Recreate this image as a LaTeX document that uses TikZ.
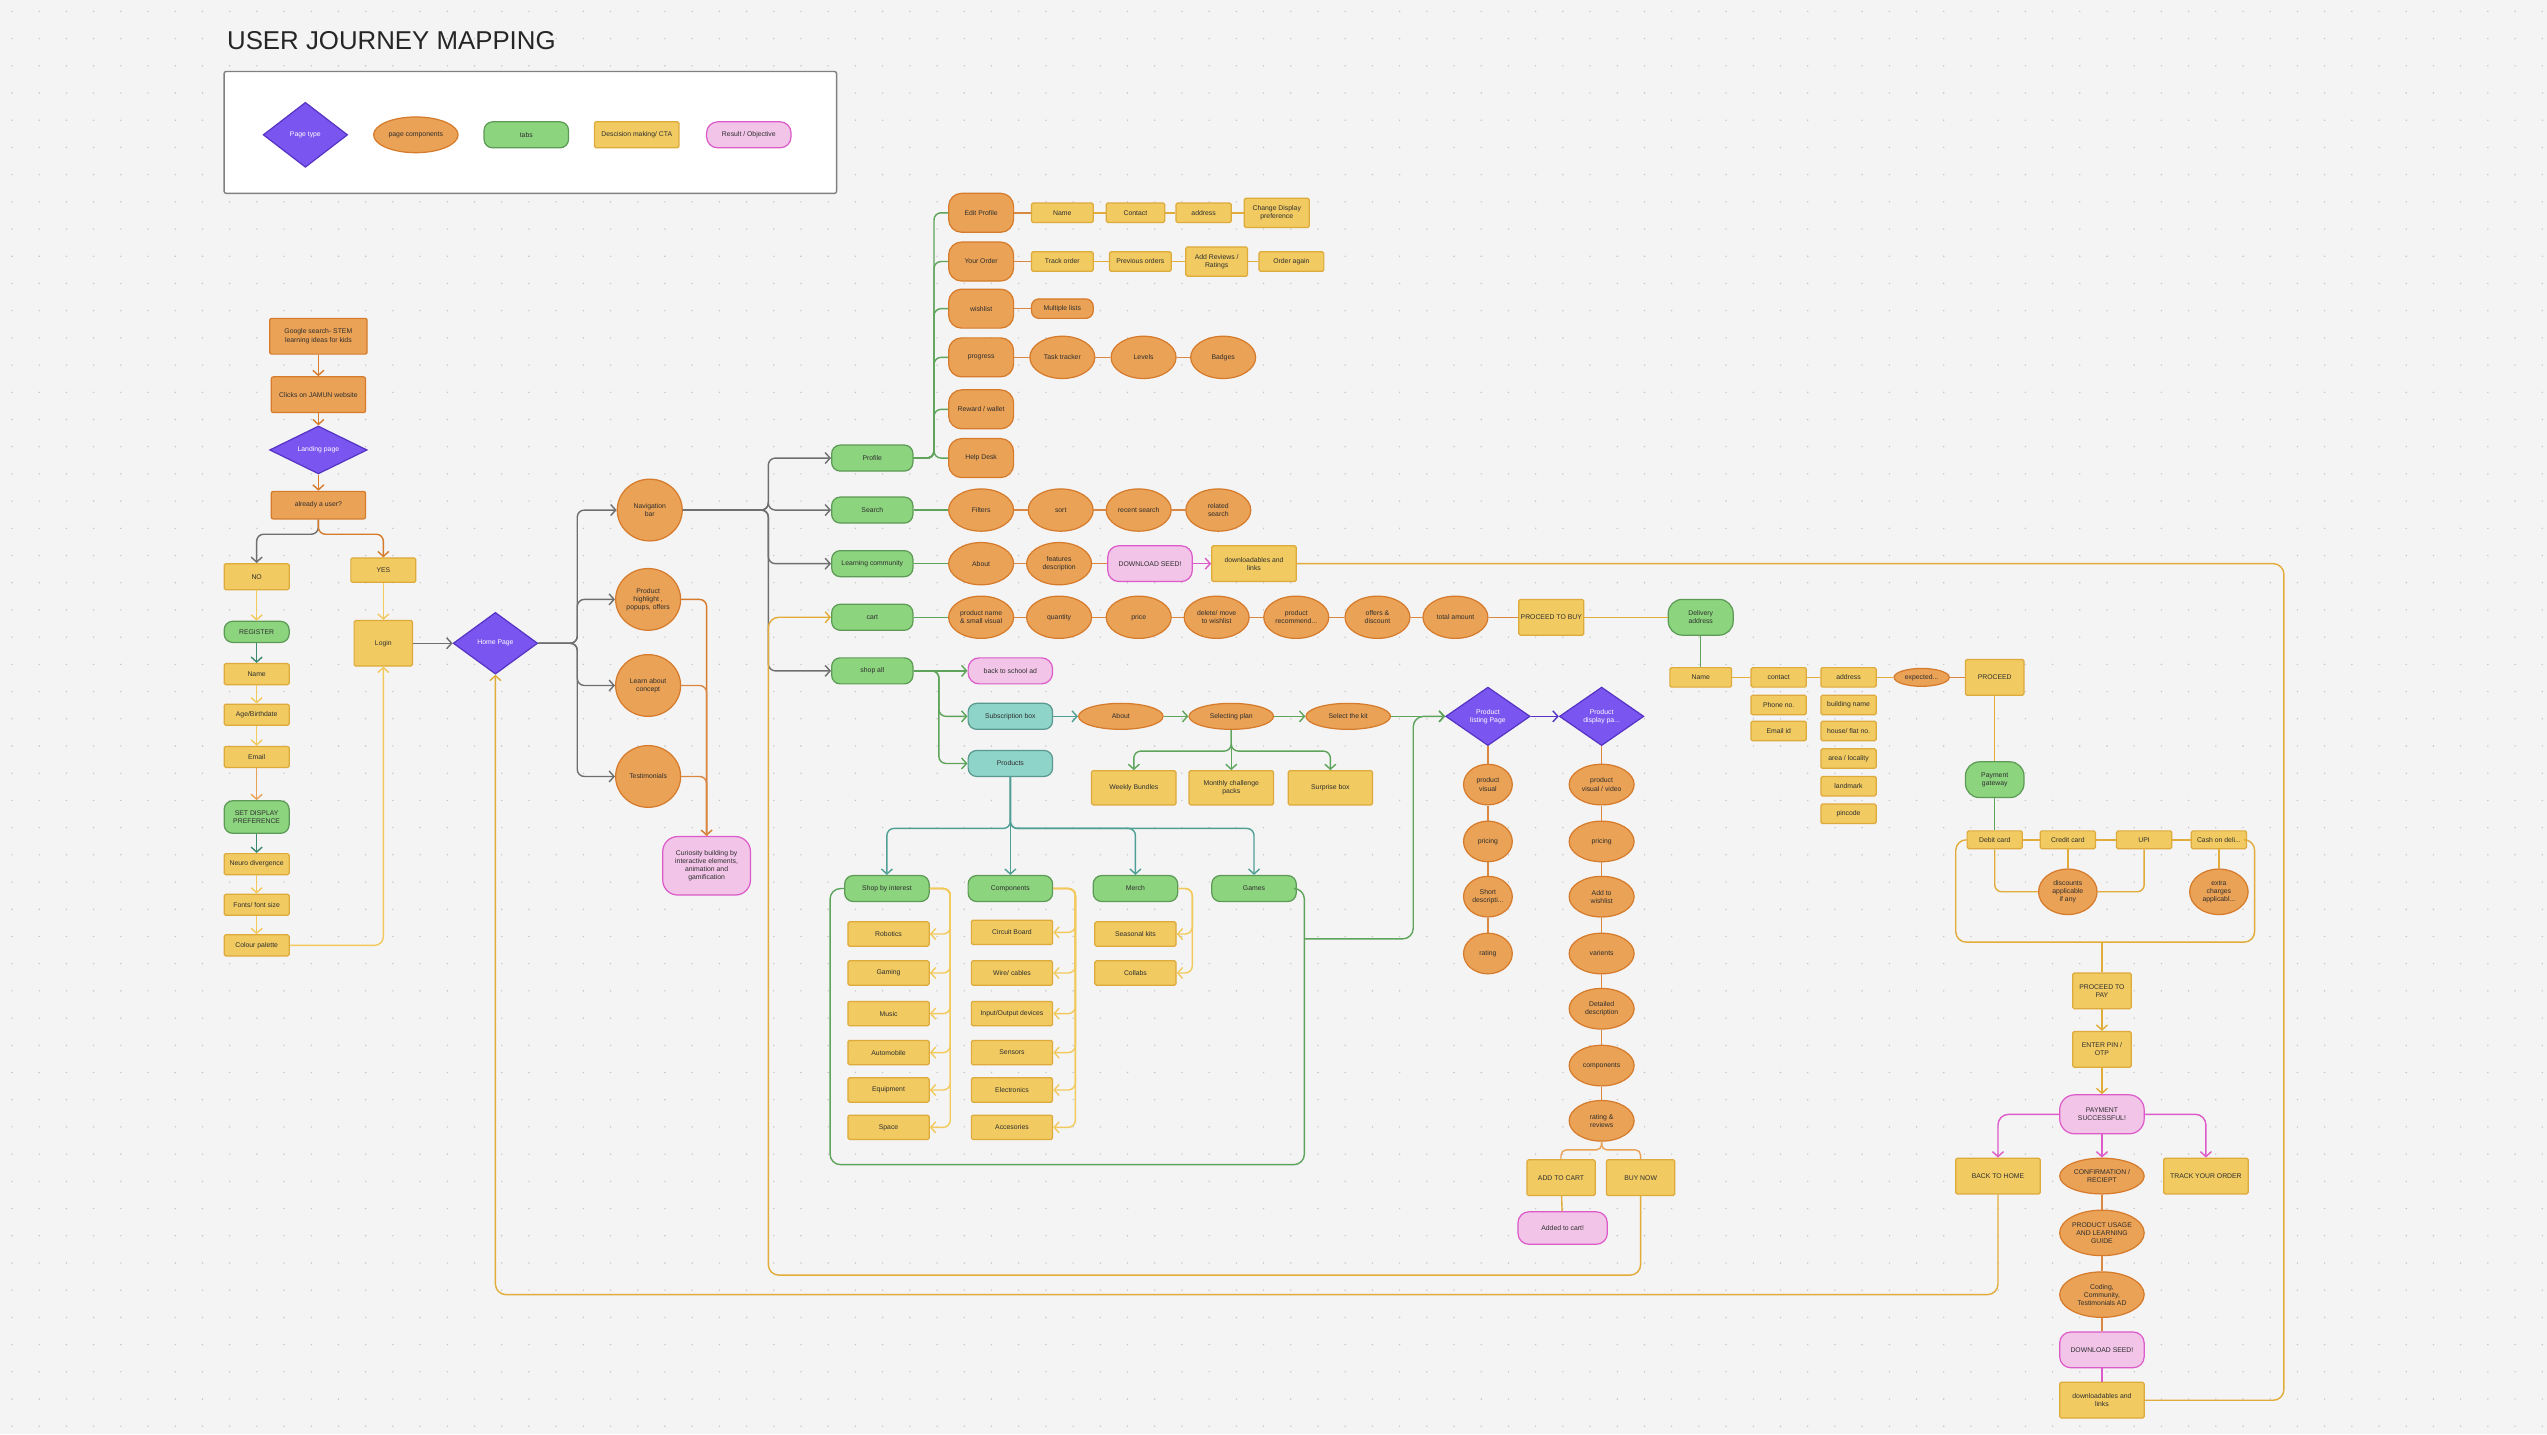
\documentclass[tikz,border=0pt]{standalone}
\usepackage{fontspec}
\setmainfont{Liberation Sans}
\usetikzlibrary{arrows.meta,positioning,shapes.geometric}
\definecolor{bgc}{HTML}{F4F4F4}
\definecolor{dotc}{HTML}{C4C4C4}
\definecolor{purf}{HTML}{7B55F0}
\definecolor{purd}{HTML}{5634C4}
\definecolor{orf}{HTML}{EAA256}
\definecolor{ord}{HTML}{D67B2C}
\definecolor{yef}{HTML}{F1CB62}
\definecolor{yed}{HTML}{DDAA3C}
\definecolor{grf}{HTML}{8DD47F}
\definecolor{grd}{HTML}{5C9A55}
\definecolor{tef}{HTML}{8ED4C9}
\definecolor{ted}{HTML}{5A9990}
\definecolor{pif}{HTML}{F1C4E8}
\definecolor{pid}{HTML}{DD5BC9}
\definecolor{txt}{HTML}{2E2E2E}
\definecolor{gline}{HTML}{6F6F6F}
\definecolor{lyel}{HTML}{F2C95C}
\definecolor{dyel}{HTML}{E2AC3A}
\definecolor{grl}{HTML}{5EA45B}
\definecolor{dgrl}{HTML}{3E8A6E}
\definecolor{tel}{HTML}{4F9F95}
\newcommand{\jmfont}{\fontsize{3.9}{4.6}\selectfont}
\tikzset{
  sz/.style 2 args={minimum width=#1*0.0325cm, minimum height=#2*0.0325cm},
  jmbase/.style={inner sep=0pt, align=center, font=\jmfont, text=txt, line width=0.7pt},
  pagebox/.style={jmbase, diamond, fill=purf, draw=purd, text=white},
  orbox/.style={jmbase, rectangle, fill=orf, draw=ord, rounded corners=0.4mm},
  comp/.style={jmbase, ellipse, fill=orf, draw=ord},
  comprr/.style={jmbase, rectangle, fill=orf, draw=ord, rounded corners=2.6mm},
  tabbox/.style={jmbase, rectangle, fill=grf, draw=grd, rounded corners=1.7mm},
  tealbox/.style={jmbase, rectangle, fill=tef, draw=ted, rounded corners=1.7mm},
  ctabox/.style={jmbase, rectangle, fill=yef, draw=yed, rounded corners=0.3mm},
  resbox/.style={jmbase, rectangle, fill=pif, draw=pid, rounded corners=2.2mm},
  tip/.style={-{Straight Barb[length=1mm,width=2.2mm]}},
  garrow/.style={tip, draw=gline, line width=0.8pt},
  oarrow/.style={tip, draw=ord, line width=0.8pt},
  yarrow/.style={tip, draw=dyel, line width=0.8pt},
  lyarrow/.style={tip, draw=lyel, line width=0.8pt},
  grarrow/.style={tip, draw=grl, line width=0.8pt},
  dgarrow/.style={tip, draw=dgrl, line width=0.8pt},
  tarrow/.style={tip, draw=tel, line width=0.8pt},
  parrow/.style={tip, draw=pid, line width=0.8pt},
  purarrow/.style={tip, draw=purd, line width=0.8pt},
  oline/.style={draw=ord!90, line width=0.8pt},
  yline/.style={draw=dyel, line width=0.8pt},
  grline/.style={draw=grl, line width=0.8pt},
  pline/.style={draw=pid, line width=0.8pt},
  dotrow/.style={draw=dotc, line width=0.9pt, line cap=round, dash pattern=on 0pt off 0.544375cm}
}
\begin{document}
\begin{tikzpicture}[x=0.0325cm, y=-0.0325cm]
\fill[bgc] (0,0) rectangle (1568,883);
\useasboundingbox (0,0) rectangle (1568,883);
\foreach \j in {0,...,52}
  \draw[dotrow] (7.4,7+16.75*\j) -- (1568,7+16.75*\j);

% title and legend
\node[anchor=west, font=\fontsize{14.7}{17}\selectfont, text=black!85] (title) at (136,25) {USER JOURNEY MAPPING};
\draw[fill=white, draw=gray, line width=0.8pt, rounded corners=0.4mm] (138,44) rectangle (515,119);
\node[pagebox, sz={52}{40}] (lgpage) at (188,83) {Page type};
\node[comp, sz={52}{22}] (lgcomp) at (256,83) {page components};
\node[tabbox, sz={52}{16}] (lgtab) at (324,83) {tabs};
\node[ctabox, sz={52}{16}] (lgcta) at (392,83) {Descision making/ CTA};
\node[resbox, sz={52}{16}] (lgres) at (461,83) {Result / Objective};

% entry and registration
\node[orbox, sz={60}{22}] (google) at (196,207) {Google search- STEM\\learning ideas for kids};
\node[orbox, sz={58}{22}] (clicks) at (196,243) {Clicks on JAMUN website};
\node[pagebox, sz={60}{22}] (landing) at (196,277) {Landing page};
\node[orbox, sz={58}{17}] (user) at (196,311) {already a user?};
\node[ctabox, sz={40}{16}] (no) at (158,355) {NO};
\node[ctabox, sz={40}{15}] (yes) at (236,351) {YES};
\node[tabbox, sz={40}{13}] (register) at (158,389) {REGISTER};
\node[ctabox, sz={36}{28}] (login) at (236,396) {Login};
\node[ctabox, sz={40}{13}] (regname) at (158,415) {Name};
\node[ctabox, sz={40}{13}] (age) at (158,440) {Age/Birthdate};
\node[ctabox, sz={40}{13}] (email) at (158,466) {Email};
\node[tabbox, sz={40}{20}] (setdisp) at (158,503) {SET DISPLAY\\PREFERENCE};
\node[ctabox, sz={40}{13}] (neuro) at (158,532) {Neuro divergence};
\node[ctabox, sz={40}{13}] (fonts) at (158,557) {Fonts/ font size};
\node[ctabox, sz={40}{13}] (colour) at (158,582) {Colour palette};
\draw[oarrow] (google) -- (clicks);
\draw[oarrow] (clicks) -- (landing);
\draw[oarrow] (landing) -- (user);
\draw[garrow, rounded corners=4] (user.south) -- ++(0,9) -| (no.north);
\draw[oarrow, rounded corners=4] (user.south) -- ++(0,9) -| (yes.north);
\draw[lyarrow] (no) -- (register);
\draw[dgarrow] (register) -- (regname);
\draw[lyarrow] (regname) -- (age);
\draw[lyarrow] (age) -- (email);
\draw[oarrow, draw=orf] (email) -- (setdisp);
\draw[dgarrow] (setdisp) -- (neuro);
\draw[lyarrow] (neuro) -- (fonts);
\draw[lyarrow] (fonts) -- (colour);
\draw[lyarrow] (yes) -- (login);
\draw[lyarrow, rounded corners=5] (colour.east) -| (login.south);

% home page
\node[pagebox, sz={52}{38}] (home) at (305,396) {Home Page};
\node[comp, sz={40}{38}] (navbar) at (400,314) {Navigation\\bar};
\node[comp, sz={40}{38}] (prodhl) at (399,369) {Product\\highlight ,\\popups, offers};
\node[comp, sz={40}{38}] (learn) at (399,422) {Learn about\\concept};
\node[comp, sz={40}{38}] (testim) at (399,478) {Testimonials};
\node[resbox, sz={54}{36}, rounded corners=3mm] (curio) at (435,533) {Curiosity building by\\interactive elements,\\animation and\\gamification};
\draw[garrow] (login) -- (home);
\foreach \n in {navbar,prodhl,learn,testim}
  \draw[garrow, rounded corners=4] (home.east) -- ++(24,0) |- (\n.west);
\draw[oarrow, rounded corners=4] (prodhl.east) -| (curio.north);
\draw[oline, rounded corners=4] (learn.east) -| (curio.north);
\draw[oline, rounded corners=4] (testim.east) -| (curio.north);

% navigation tabs
\node[tabbox, sz={50}{16}] (profile) at (537,282) {Profile};
\node[tabbox, sz={50}{16}] (search) at (537,314) {Search};
\node[tabbox, sz={50}{16}] (learncom) at (537,347) {Learning community};
\node[tabbox, sz={50}{16}] (cart) at (537,380) {cart};
\node[tabbox, sz={50}{16}] (shopall) at (537,413) {shop all};
\foreach \t in {profile,search,learncom,shopall}
  \draw[garrow, rounded corners=4] (navbar.east) -- (473,314) |- (\t.west);

% profile
\node[comprr, sz={40}{24}] (edit) at (604,131) {Edit Profile};
\node[comprr, sz={40}{24}] (order) at (604,161) {Your Order};
\node[comprr, sz={40}{24}] (wish) at (604,190) {wishlist};
\node[comprr, sz={40}{24}] (progress) at (604,220) {progress};
\node[comprr, sz={40}{24}] (reward) at (604,252) {Reward / wallet};
\node[comprr, sz={40}{24}] (help) at (604,282) {Help Desk};
\foreach \p in {edit,order,wish,progress,reward,help}
  \draw[grline, rounded corners=4] (profile.east) -- (575,282) |- (\p.west);
\node[ctabox, sz={38}{12}] (ename) at (654,131) {Name};
\node[ctabox, sz={36}{12}] (econtact) at (699,131) {Contact};
\node[ctabox, sz={34}{12}] (eaddr) at (741,131) {address};
\node[ctabox, sz={40}{18}] (edisp) at (786,131) {Change Display\\preference};
\node[ctabox, sz={38}{12}] (track) at (654,161) {Track order};
\node[ctabox, sz={38}{12}] (prev) at (702,161) {Previous orders};
\node[ctabox, sz={38}{18}] (review) at (749,161) {Add Reviews /\\Ratings};
\node[ctabox, sz={40}{12}] (again) at (795,161) {Order again};
\node[comprr, sz={38}{12}, rounded corners=1.5mm] (multi) at (654,190) {Multiple lists};
\node[comp, sz={40}{26}] (task) at (654,220) {Task tracker};
\node[comp, sz={40}{26}] (levels) at (704,220) {Levels};
\node[comp, sz={40}{26}] (badges) at (753,220) {Badges};
\draw[oline] (edit) -- (ename);
\draw[yline] (ename) -- (econtact);
\draw[yline] (econtact) -- (eaddr);
\draw[yline] (eaddr) -- (edisp);
\draw[oline] (order) -- (track);
\draw[yline] (track) -- (prev);
\draw[yline] (prev) -- (review);
\draw[yline] (review) -- (again);
\draw[oline] (wish) -- (multi);
\draw[oline] (progress) -- (task);
\draw[oline] (task) -- (levels);
\draw[oline] (levels) -- (badges);

% search
\node[comp, sz={40}{26}] (filters) at (604,314) {Filters};
\node[comp, sz={40}{26}] (sort) at (653,314) {sort};
\node[comp, sz={40}{26}] (recent) at (701,314) {recent search};
\node[comp, sz={40}{26}] (related) at (750,314) {related\\search};
\draw[grline] (search) -- (filters);
\draw[oline] (filters) -- (sort);
\draw[oline] (sort) -- (recent);
\draw[oline] (recent) -- (related);

% learning community
\node[comp, sz={40}{26}] (about) at (604,347) {About};
\node[comp, sz={40}{26}] (feat) at (652,347) {features\\description};
\node[resbox, sz={52}{22}] (dlseed) at (708,347) {DOWNLOAD SEED!};
\node[ctabox, sz={52}{22}] (dllinks) at (772,347) {downloadables and\\links};
\draw[grline] (learncom) -- (about);
\draw[oline] (about) -- (feat);
\draw[oline] (feat) -- (dlseed);
\draw[parrow] (dlseed) -- (dllinks);

% cart
\node[comp, sz={40}{26}] (pname) at (604,380) {product name\\\& small visual};
\node[comp, sz={40}{26}] (qty) at (652,380) {quantity};
\node[comp, sz={40}{26}] (price) at (701,380) {price};
\node[comp, sz={40}{26}] (delete) at (749,380) {delete/ move\\to wishlist};
\node[comp, sz={40}{26}] (recomm) at (798,380) {product\\recommend...};
\node[comp, sz={40}{26}] (offers) at (848,380) {offers \&\\discount};
\node[comp, sz={40}{26}] (total) at (896,380) {total amount};
\node[ctabox, sz={40}{22}] (ptb) at (955,380) {PROCEED TO BUY};
\node[tabbox, sz={40}{22}, rounded corners=2.8mm] (delivery) at (1047,380) {Delivery\\address};
\draw[grline] (cart) -- (pname);
\draw[oline] (pname) -- (qty);
\draw[oline] (qty) -- (price);
\draw[oline] (price) -- (delete);
\draw[oline] (delete) -- (recomm);
\draw[oline] (recomm) -- (offers);
\draw[oline] (offers) -- (total);
\draw[oline] (total) -- (ptb);
\draw[yline] (ptb) -- (delivery);

% shop all
\node[resbox, sz={52}{16}] (bts) at (622,413) {back to school ad};
\node[tealbox, sz={52}{16}] (subbox) at (622,441) {Subscription box};
\node[tealbox, sz={52}{16}] (products) at (622,470) {Products};
\draw[grarrow] (shopall) -- (bts);
\draw[grarrow, rounded corners=4] (shopall.east) -- (578,413) |- (subbox.west);
\draw[grarrow, rounded corners=4] (shopall.east) -- (578,413) |- (products.west);
\node[comp, sz={52}{16}] (sabout) at (690,441) {About};
\node[comp, sz={52}{16}] (selplan) at (758,441) {Selecting plan};
\node[comp, sz={52}{16}] (selkit) at (830,441) {Select the kit};
\node[ctabox, sz={52}{21}] (weekly) at (698,485) {Weekly Bundles};
\node[ctabox, sz={52}{21}] (monthly) at (758,485) {Monthly challenge\\packs};
\node[ctabox, sz={52}{21}] (surprise) at (819,485) {Surprise box};
\draw[tarrow] (subbox) -- (sabout);
\draw[grarrow] (sabout) -- (selplan);
\draw[grarrow] (selplan) -- (selkit);
\foreach \w in {weekly,monthly,surprise}
  \draw[grarrow, rounded corners=4] (selplan.south) -- ++(0,13) -| (\w.north);

% products
\node[tabbox, sz={52}{16}] (interest) at (546,547) {Shop by interest};
\node[tabbox, sz={52}{16}] (comps) at (622,547) {Components};
\node[tabbox, sz={52}{16}] (merch) at (699,547) {Merch};
\node[tabbox, sz={52}{16}] (games) at (772,547) {Games};
\foreach \c in {interest,comps,merch,games}
  \draw[tarrow, rounded corners=4] (products.south) -- (622,510) -| (\c.north);
\draw[grline, rounded corners=6] (interest.west) -- (511,547) -- (511,717) -- (803,717) -- (803,547) -- (games.east);
\coordinate (boxr) at (803,578);
\foreach \s/\y/\t in {robotics/575/Robotics, gaming/599/Gaming, music/624/Music, auto/648/Automobile, equip/671/Equipment, space/694/Space}
  \node[ctabox, sz={50}{15}] (\s) at (547,\y) {\t};
\foreach \s/\y/\t in {circuit/574/{Circuit Board}, wire/599/{Wire/ cables}, io/624/{Input/Output devices}, sensors/648/{Sensors}, electronics/671/{Electronics}, acc/694/{Accesories}}
  \node[ctabox, sz={50}{15}] (\s) at (623,\y) {\t};
\node[ctabox, sz={50}{15}] (seasonal) at (699,575) {Seasonal kits};
\node[ctabox, sz={50}{15}] (collabs) at (699,599) {Collabs};
\foreach \s in {robotics,gaming,music,auto,equip,space}
  \draw[lyarrow, rounded corners=4] (interest.east) -- (585,547) |- (\s.east);
\foreach \s in {circuit,wire,io,sensors,electronics,acc}
  \draw[lyarrow, rounded corners=4] (comps.east) -- (662,547) |- (\s.east);
\foreach \s in {seasonal,collabs}
  \draw[lyarrow, rounded corners=4] (merch.east) -- (734,547) |- (\s.east);

% product listing and display
\node[pagebox, sz={52}{36}] (plp) at (916,441) {Product\\listing Page};
\node[pagebox, sz={52}{36}] (pdp) at (986,441) {Product\\display pa...};
\draw[grarrow] (selkit) -- (plp);
\draw[grarrow, rounded corners=6] (boxr) -- (870,578) |- (plp.west);
\draw[purarrow] (plp) -- (pdp);
\node[comp, sz={30}{25}] (pvis) at (916,483) {product\\visual};
\node[comp, sz={30}{25}] (ppri) at (916,518) {pricing};
\node[comp, sz={30}{25}] (pshort) at (916,552) {Short\\descripti...};
\node[comp, sz={30}{25}] (prate) at (916,587) {rating};
\draw[oline] (plp) -- (pvis);
\draw[oline] (pvis) -- (ppri);
\draw[oline] (ppri) -- (pshort);
\draw[oline] (pshort) -- (prate);
\node[comp, sz={40}{25}] (dvis) at (986,483) {product\\visual / video};
\node[comp, sz={40}{25}] (dpri) at (986,518) {pricing};
\node[comp, sz={40}{25}] (dwish) at (986,552) {Add to\\wishlist};
\node[comp, sz={40}{25}] (dvar) at (986,587) {varients};
\node[comp, sz={40}{25}] (ddet) at (986,621) {Detailed\\description};
\node[comp, sz={40}{25}] (dcomp) at (986,656) {components};
\node[comp, sz={40}{25}] (drate) at (986,690) {rating \&\\reviews};
\draw[oline] (pdp) -- (dvis);
\draw[oline] (dvis) -- (dpri);
\draw[oline] (dpri) -- (dwish);
\draw[oline] (dwish) -- (dvar);
\draw[oline] (dvar) -- (ddet);
\draw[oline] (ddet) -- (dcomp);
\draw[oline] (dcomp) -- (drate);
\node[ctabox, sz={42}{22}] (addcart) at (961,725) {ADD TO CART};
\node[ctabox, sz={42}{22}] (buynow) at (1010,725) {BUY NOW};
\node[resbox, sz={55}{20}] (added) at (962,756) {Added to cart!};
\draw[yline, draw=orf, rounded corners=3] (drate.south) -- ++(0,5) -| (addcart.north);
\draw[yline, draw=orf, rounded corners=3] (drate.south) -- ++(0,5) -| (buynow.north);
\draw[yline] (addcart) -- (added);
\draw[yarrow, rounded corners=6] (buynow.south) |- (473,785) |- (cart.west);

% delivery
\node[ctabox, sz={38}{12}] (dname) at (1047,417) {Name};
\node[ctabox, sz={34}{12}] (dcontact) at (1095,417) {contact};
\node[ctabox, sz={34}{12}] (daddr) at (1138,417) {address};
\node[comp, sz={34}{11}] (expect) at (1183,417) {expected...};
\node[ctabox, sz={36}{22}] (proceed) at (1228,417) {PROCEED};
\node[ctabox, sz={34}{12}] (phone) at (1095,434) {Phone no.};
\node[ctabox, sz={34}{12}] (emailid) at (1095,450) {Email id};
\node[ctabox, sz={34}{12}] (bname) at (1138,434) {building name};
\node[ctabox, sz={34}{12}] (house) at (1138,450) {house/ flat no.};
\node[ctabox, sz={34}{12}] (area) at (1138,467) {area / locality};
\node[ctabox, sz={34}{12}] (landmark) at (1138,484) {landmark};
\node[ctabox, sz={34}{12}] (pincode) at (1138,501) {pincode};
\draw[grline, line width=0.5pt] (delivery) -- (dname);
\draw[yline] (dname) -- (dcontact);
\draw[yline] (dcontact) -- (daddr);
\draw[yline] (daddr) -- (expect);
\draw[oline] (expect) -- (proceed);

% payment
\node[tabbox, sz={36}{22}, rounded corners=2.8mm] (paygate) at (1228,480) {Payment\\gateway};
\node[ctabox, sz={34}{11}] (debit) at (1228,517) {Debit card};
\node[ctabox, sz={34}{11}] (credit) at (1273,517) {Credit card};
\node[ctabox, sz={34}{11}] (upi) at (1320,517) {UPI};
\node[ctabox, sz={34}{11}] (cod) at (1366,517) {Cash on deli...};
\node[comp, sz={36}{28}] (disc) at (1273,549) {discounts\\applicable\\if any};
\node[comp, sz={36}{28}] (extra) at (1366,549) {extra\\charges\\applicabl...};
\draw[yline] (proceed) -- (paygate);
\draw[grline] (paygate) -- (debit);
\draw[yline] (debit) -- (credit);
\draw[yline] (credit) -- (upi);
\draw[yline] (upi) -- (cod);
\draw[yline] (credit) -- (disc);
\draw[yline, rounded corners=4] (debit.south) |- (disc.west);
\draw[yline, rounded corners=4] (upi.south) |- (disc.east);
\draw[yline] (cod) -- (extra);
\node[ctabox, sz={36}{22}] (paytopay) at (1294,610) {PROCEED TO\\PAY};
\node[ctabox, sz={36}{22}] (pin) at (1294,646) {ENTER PIN /\\OTP};
\node[resbox, sz={52}{24}, rounded corners=3mm] (success) at (1294,686) {PAYMENT\\SUCCESSFUL!};
\draw[yline, rounded corners=6] (cod.east) -- (1388,517) -- (1388,580) -- (1204,580) -- (1204,517) -- (debit.west);
\coordinate (paysplit) at (1294,580);
\draw[yline] (paysplit) -- (paytopay);
\draw[yarrow] (paytopay) -- (pin);
\draw[yarrow] (pin) -- (success);

% after payment
\node[ctabox, sz={52}{22}] (backhome) at (1230,724) {BACK TO HOME};
\node[comp, sz={52}{22}] (confirm) at (1294,724) {CONFIRMATION /\\RECIEPT};
\node[ctabox, sz={52}{22}] (trackorder) at (1358,724) {TRACK YOUR ORDER};
\node[comp, sz={52}{28}] (guide) at (1294,759) {PRODUCT USAGE\\AND LEARNING\\GUIDE};
\node[comp, sz={52}{28}] (coding) at (1294,797) {Coding,\\Community,\\Testimonials AD};
\node[resbox, sz={52}{22}] (dlseedb) at (1294,831) {DOWNLOAD SEED!};
\node[ctabox, sz={52}{22}] (dllinksb) at (1294,862) {downloadables and\\links};
\draw[parrow, rounded corners=6] (success.west) -| (backhome.north);
\draw[parrow, rounded corners=6] (success.east) -| (trackorder.north);
\draw[parrow] (success) -- (confirm);
\draw[oline] (confirm) -- (guide);
\draw[oline] (guide) -- (coding);
\draw[oline] (coding) -- (dlseedb);
\draw[pline] (dlseedb) -- (dllinksb);
\draw[yline, rounded corners=6] (dllinks.east) -- (1406,347) |- (dllinksb.east);
\draw[yarrow, rounded corners=6] (backhome.south) |- (305,797) -- (home.south);
\end{tikzpicture}
\end{document}
